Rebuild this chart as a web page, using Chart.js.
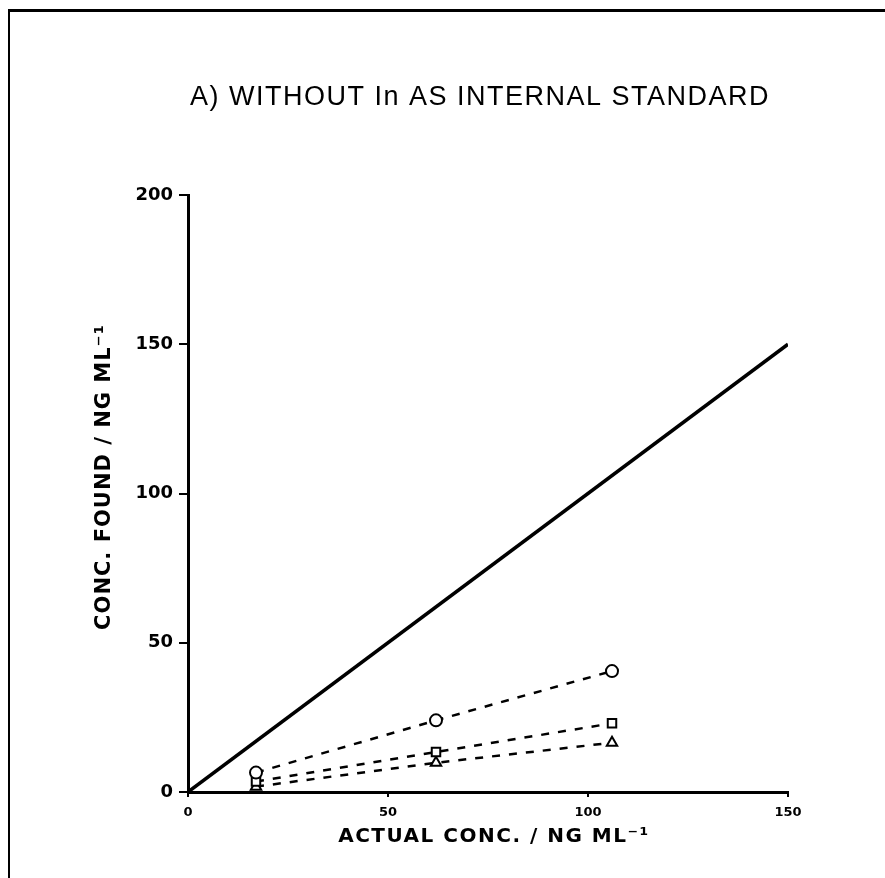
<!DOCTYPE html>
<html lang="en">
<head>
  <meta charset="UTF-8">
  <title>Without In as internal standard</title>
  <script src="https://cdn.jsdelivr.net/npm/chart.js"></script>
  <style>
    html, body { margin: 0; padding: 0; background: #fff; }
    #wrap { position: relative; width: 885px; height: 878px; overflow: hidden; }
    #frame { position: absolute; left: 8px; top: 9px; width: 900px; height: 900px;
             border-top: 3px solid #000; border-left: 2px solid #000; }
    canvas { position: absolute; left: 0; top: 0; }
  </style>
</head>
<body>
  <div id="wrap">
    <div id="frame"></div>
    <canvas id="grafica" width="885" height="878"></canvas>
  </div>

  <script>
    // concentrations in ng/ml
    var actualConc = [17, 62, 106];
    var circleFound = [6.5, 24, 40.5];
    var squareFound = [3.5, 13.4, 23];
    var triangleFound = [1.8, 9.8, 16.5];
    var idealLine = [0, 150];   // found = actual
    var xTicks = [0, 50, 100, 150];
    var yTicks = [0, 50, 100, 150, 200];

    function puntos(xs, ys) {
      return xs.map(function (x, i) { return { x: x, y: ys[i] }; });
    }

    function serie(ys, estilo) {
      return {
        data: puntos(actualConc, ys),
        showLine: true,
        borderColor: '#000',
        borderWidth: 2.5,
        borderDash: [8, 9],
        pointStyle: estilo,
        pointRadius: 6,
        pointBorderWidth: 2,
        pointBorderColor: '#000',
        pointBackgroundColor: '#fff'
      };
    }

    // titles drawn by hand so they get the wide letter spacing
    var titulos = {
      id: 'titulos',
      afterDraw: function (chart) {
        var ctx = chart.ctx;
        var spacing = function (v) { if ('letterSpacing' in ctx) ctx.letterSpacing = v; };
        ctx.save();
        ctx.fillStyle = '#000';
        ctx.textAlign = 'center';
        ctx.textBaseline = 'middle';

        spacing('1.5px');
        ctx.font = '27px "Liberation Sans"';
        ctx.fillText('A) WITHOUT In AS INTERNAL STANDARD', 480, 98);

        spacing('1.5px');
        ctx.font = 'bold 20px "DejaVu Sans"';
        ctx.fillText('ACTUAL CONC. / NG ML⁻¹', 494, 837);

        ctx.translate(105, 477);
        ctx.rotate(-Math.PI / 2);
        spacing('1px');
        ctx.font = 'bold 21px "DejaVu Sans"';
        ctx.fillText('CONC. FOUND / NG ML⁻¹', 0, 0);
        ctx.restore();
      }
    };

    var ctx = document.getElementById('grafica').getContext('2d');
    new Chart(ctx, {
      type: 'scatter',
      data: {
        datasets: [
          {
            data: puntos(idealLine, idealLine),
            showLine: true,
            borderColor: '#000',
            borderWidth: 3.5,
            pointRadius: 0
          },
          serie(circleFound, 'circle'),
          serie(squareFound, 'rect'),
          serie(triangleFound, 'triangle')
        ]
      },
      options: {
        responsive: false,
        animation: false,
        layout: { padding: { top: 195, right: 97, bottom: 0, left: 0 } },
        plugins: {
          legend: { display: false },
          tooltip: { enabled: false },
          title: { display: false }
        },
        scales: {
          x: {
            type: 'linear',
            min: 0,
            max: 150,
            afterBuildTicks: function (s) { s.ticks = xTicks.map(function (v) { return { value: v }; }); },
            afterFit: function (s) { s.height = 86; },
            grid: { display: true, drawOnChartArea: false, drawTicks: true, tickLength: 5, color: '#000', lineWidth: 2 },
            border: { display: true, color: '#000', width: 3 },
            ticks: { color: '#000', padding: 8, maxRotation: 0, font: { family: 'DejaVu Sans', size: 13, weight: 'bold' } }
          },
          y: {
            type: 'linear',
            min: 0,
            max: 200,
            afterBuildTicks: function (s) { s.ticks = yTicks.map(function (v) { return { value: v }; }); },
            afterFit: function (s) { s.width = 188; },
            grid: { display: true, drawOnChartArea: false, drawTicks: true, tickLength: 9, color: '#000', lineWidth: 2 },
            border: { display: true, color: '#000', width: 3 },
            ticks: { color: '#000', padding: 6, font: { family: 'DejaVu Sans', size: 18, weight: 'bold' } }
          }
        }
      },
      plugins: [titulos]
    });
  </script>
</body>
</html>
